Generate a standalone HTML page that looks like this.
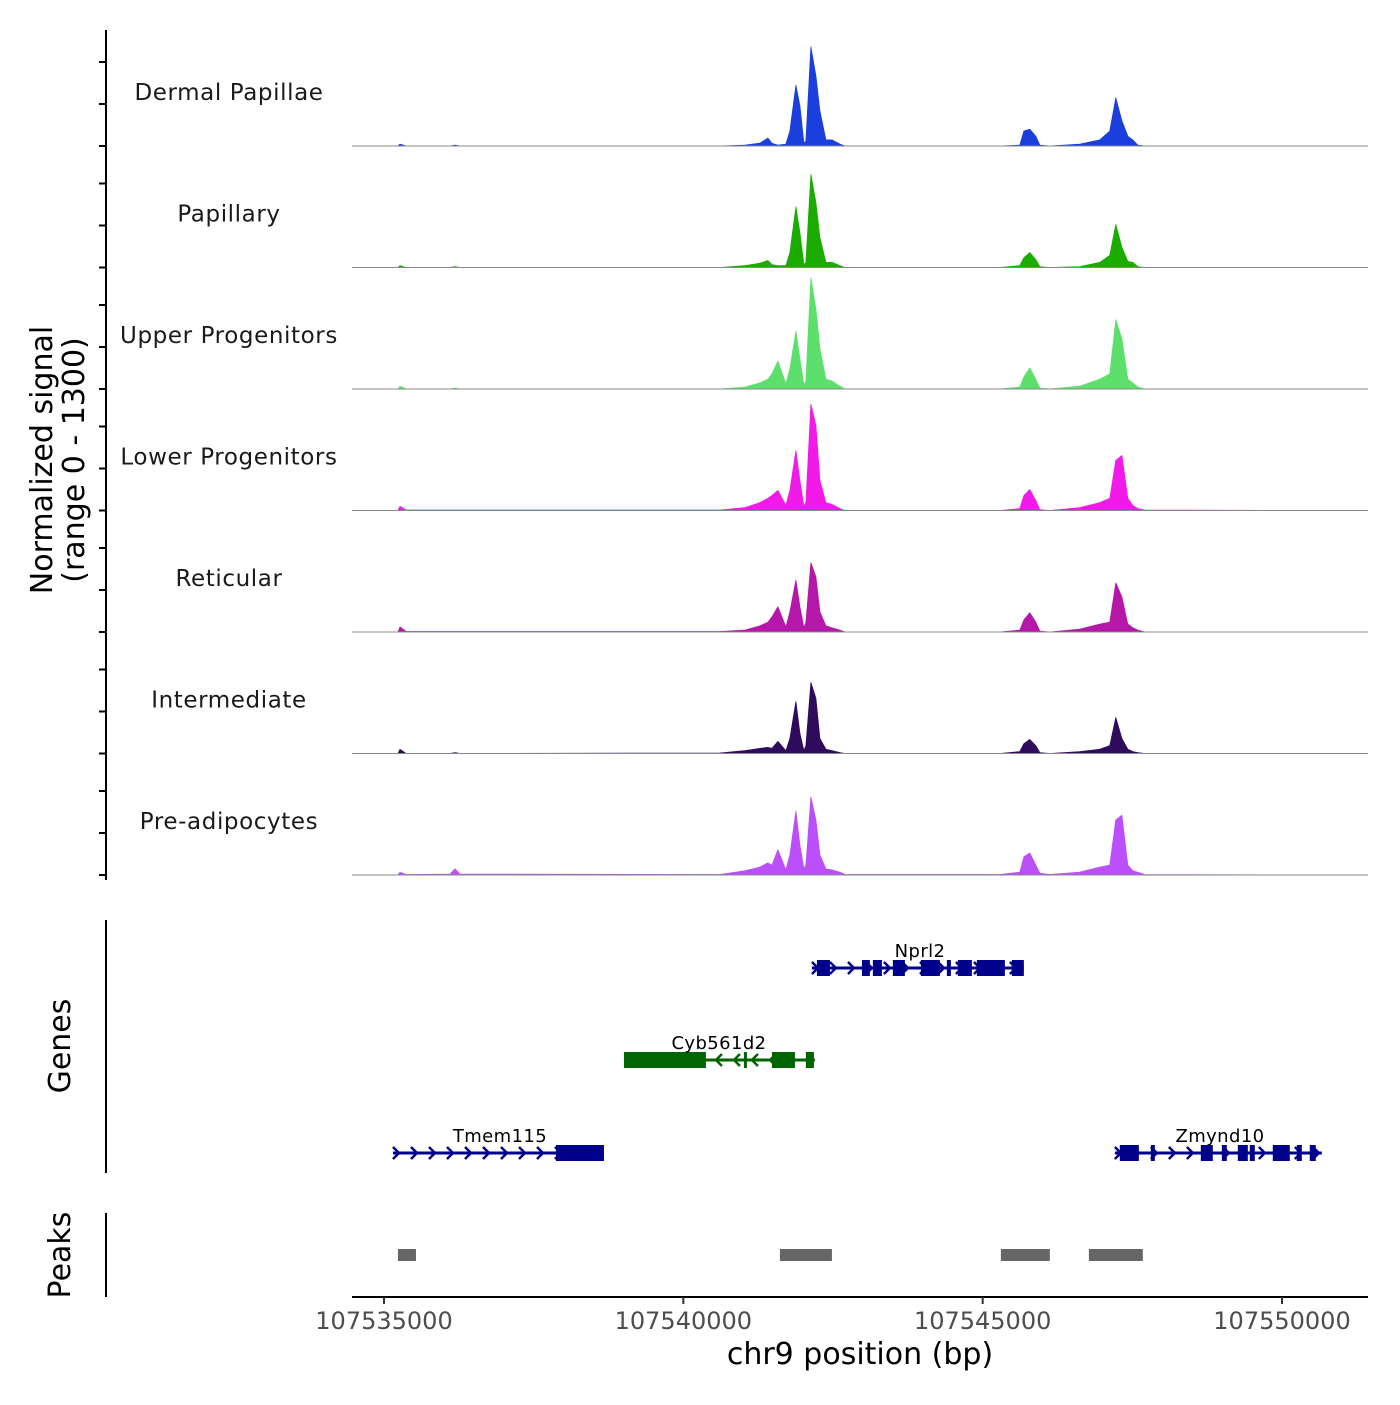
<!DOCTYPE html>
<html><head><meta charset="utf-8"><style>
body{margin:0;background:#fff;}
svg text{font-family:"DejaVu Sans","Liberation Sans",sans-serif;}
</style></head><body>
<svg id="chart" width="1400" height="1400" xmlns="http://www.w3.org/2000/svg">
<rect width="1400" height="1400" fill="#fff"/>
</svg>
<script>
const trackNames = ["Dermal Papillae","Papillary","Upper Progenitors","Lower Progenitors","Reticular","Intermediate","Pre-adipocytes"];
const trackColors = ["#1a3fdc","#1aac00","#5de06b","#f21ae8","#b517a8","#2f0b5e","#bb4ffa"];
const positions = [107535234,107535267,107535367,107536102,107536186,107536269,107540611,107541029,107541279,107541413,107541480,107541580,107541713,107541780,107541880,107541947,107542014,107542047,107542131,107542214,107542281,107542381,107542482,107542615,107542699,107545287,107545621,107545688,107545788,107545888,107545955,107546122,107546623,107546957,107547124,107547224,107547325,107547425,107547508,107547592,107547709,107550631];
const sigDermal = [0,20,0,0,10,0,0,10,30,85,30,10,20,160,650,430,30,55,1060,750,375,65,65,20,0,0,10,160,180,105,10,0,20,65,160,515,270,105,65,10,0,0];
const sigPapillary = [0,20,0,0,10,0,0,20,45,75,30,20,20,160,650,375,30,55,995,695,320,55,55,20,0,0,20,105,160,85,10,0,10,55,130,460,215,65,55,10,0,0];
const sigUpper = [0,30,0,0,10,0,0,20,65,105,160,300,55,215,620,320,45,85,1190,855,430,105,85,30,0,0,20,130,225,105,10,0,30,105,160,740,535,105,65,20,0,0];
const sigLower = [0,45,5,5,5,5,5,30,85,130,160,215,55,215,640,320,45,85,1135,910,320,85,65,20,0,0,20,160,225,105,10,0,30,85,130,535,590,130,55,20,5,0];
const sigReticular = [0,55,5,5,5,5,5,20,65,105,160,270,55,215,555,270,45,105,740,590,215,65,45,20,0,0,20,130,205,105,10,0,30,85,105,525,375,85,45,20,0,0];
const sigIntermediate = [0,45,0,0,10,0,5,30,55,65,55,130,30,160,555,215,30,85,760,590,160,45,30,10,0,0,20,105,150,85,10,0,20,45,85,385,160,45,20,10,0,0];
const sigPreadipo = [0,30,5,10,65,10,5,45,85,130,105,270,55,215,685,320,65,105,835,590,215,65,55,30,5,5,30,195,235,105,20,5,30,85,105,590,640,105,45,30,5,0];
const xTicks = [107535000,107540000,107545000,107550000];
const geneNames = ["Nprl2","Cyb561d2","Tmem115","Zmynd10"];
const geneStrands = ["+","-","+","+"];
const geneSpans = [[107542148,107545688],[107539008,107542198],[107535150,107538674],[107547208,107550665]];
const exonsNprl2 = [[107542231,107542448],[107542983,107543116],[107543166,107543317],[107543500,107543701],[107543968,107544285],[107544402,107544469],[107544586,107544820],[107544903,107545371],[107545488,107545688]];
const exonsCyb561d2 = [[107539008,107540377],[107541012,107541045],[107541480,107541864],[107542047,107542181]];
const exonsTmem115 = [[107537872,107538674]];
const exonsZmynd10 = [[107547291,107547609],[107547809,107547876],[107548644,107548844],[107548995,107549078],[107549262,107549429],[107549462,107549546],[107549846,107550130],[107550247,107550331],[107550464,107550564]];
const peakStarts = [107535234,107541613,107545304,107546774];
const peakEnds = [107535534,107542482,107546122,107547675];

const signals = [sigDermal,sigPapillary,sigUpper,sigLower,sigReticular,sigIntermediate,sigPreadipo];
const geneExons = [exonsNprl2,exonsCyb561d2,exonsTmem115,exonsZmynd10];
const geneColors = ["#00008b","#006400","#00008b","#00008b"];
const geneRows = [968,1060,1153,1153];
const NS="http://www.w3.org/2000/svg";
const svg=document.getElementById('chart');
function xs(bp){return 384+(bp-107535000)*(1282-384)/15000;}
const trackH=121.5, base0=146;
function ys(v,i){return base0+i*trackH - v*(trackH)/1300;}
function mk(tag,attrs,parent){const e=document.createElementNS(NS,tag);for(const k in attrs)e.setAttribute(k,attrs[k]);(parent||svg).appendChild(e);return e;}

signals.forEach((s,i)=>{
  const g=mk('g',{});
  
  
  const b=base0+i*trackH;
  let d='M'+xs(positions[0])+','+b;
  s.forEach((v,j)=>{d+=' L'+xs(positions[j]).toFixed(1)+','+ys(v,i).toFixed(1);});
  d+=' L'+xs(positions[positions.length-1])+','+b+' Z';
  const p=mk('path',{d:d,fill:trackColors[i],stroke:trackColors[i],'stroke-width':0.8,'stroke-linejoin':'round'},g);
  
  
  const l=mk('line',{x1:352,x2:1368,y1:b,y2:b,stroke:'#888','stroke-width':1},g);
  
  
  const t=mk('text',{x:229,y:b-46,'font-size':23,'text-anchor':'middle',fill:'#1a1a1a','letter-spacing':'0.6'},g);
  t.textContent=trackNames[i];
  
  
  [0,42,84].forEach(o=>{mk('line',{x1:99,x2:106,y1:b-o,y2:b-o,stroke:'#000','stroke-width':2},g);});
});
const ya=mk('line',{x1:106,x2:106,y1:30,y2:880,stroke:'#000','stroke-width':2});


const yt=mk('text',{transform:'translate(52,460) rotate(-90)','font-size':30,'text-anchor':'middle',fill:'#000'});


const ts1=mk('tspan',{x:0,dy:0},yt);ts1.textContent='Normalized signal';
const ts2=mk('tspan',{x:0,dy:32},yt);ts2.textContent='(range 0 - 1300)';

const ga=mk('line',{x1:106,x2:106,y1:920,y2:1173,stroke:'#000','stroke-width':2});


const gt=mk('text',{transform:'translate(70,1046) rotate(-90)','font-size':30,'text-anchor':'middle'});
gt.textContent='Genes';


geneNames.forEach((n,i)=>{
  const g=mk('g',{});
  
  
  const y=geneRows[i],c=geneColors[i];
  const x1=xs(geneSpans[i][0]),x2=xs(geneSpans[i][1]);
  mk('line',{x1:x1,x2:x2,y1:y,y2:y,stroke:c,'stroke-width':3},g);
  const step=18;
  for(let x=x1+4;x<x2-4;x+=step){
    const dir=geneStrands[i]=='+'?1:-1;
    mk('polyline',{points:`${x-4*dir},${y-6} ${x+2*dir},${y} ${x-4*dir},${y+6}`,fill:'none',stroke:c,'stroke-width':2.5},g);
  }
  geneExons[i].forEach(e=>{
    const r=mk('rect',{x:xs(e[0]),y:y-8,width:Math.max(3,xs(e[1])-xs(e[0])),height:16,fill:c},g);
    
    
  });
  const lx=(x1+x2)/2;
  const t=mk('text',{x:i==0?920:(i==3?1220:(i==1?719:500)),y:y-11,'font-size':18,'text-anchor':'middle',fill:'#000','letter-spacing':'0.4'},g);
  t.textContent=n;
  
  
});

const pa=mk('line',{x1:106,x2:106,y1:1213,y2:1297,stroke:'#000','stroke-width':2});


const pt=mk('text',{transform:'translate(70,1255) rotate(-90)','font-size':30,'text-anchor':'middle'});
pt.textContent='Peaks';


peakStarts.forEach((s,i)=>{
  const r=mk('rect',{x:xs(s),y:1249,width:xs(peakEnds[i])-xs(s),height:12,fill:'#666'});
  
  
});

const xa=mk('line',{x1:352,x2:1368,y1:1297,y2:1297,stroke:'#000','stroke-width':2});


xTicks.forEach(t=>{
  const x=xs(t);
  mk('line',{x1:x,x2:x,y1:1297,y2:1304,stroke:'#333','stroke-width':2});
  const l=mk('text',{x:x,y:1329,'font-size':24,'text-anchor':'middle',fill:'#4d4d4d'});
  l.textContent=String(t);
  
  
});
const xt=mk('text',{x:860,y:1364,'font-size':30,'text-anchor':'middle',fill:'#000'});
xt.textContent='chr9 position (bp)';


</script>
</body></html>
